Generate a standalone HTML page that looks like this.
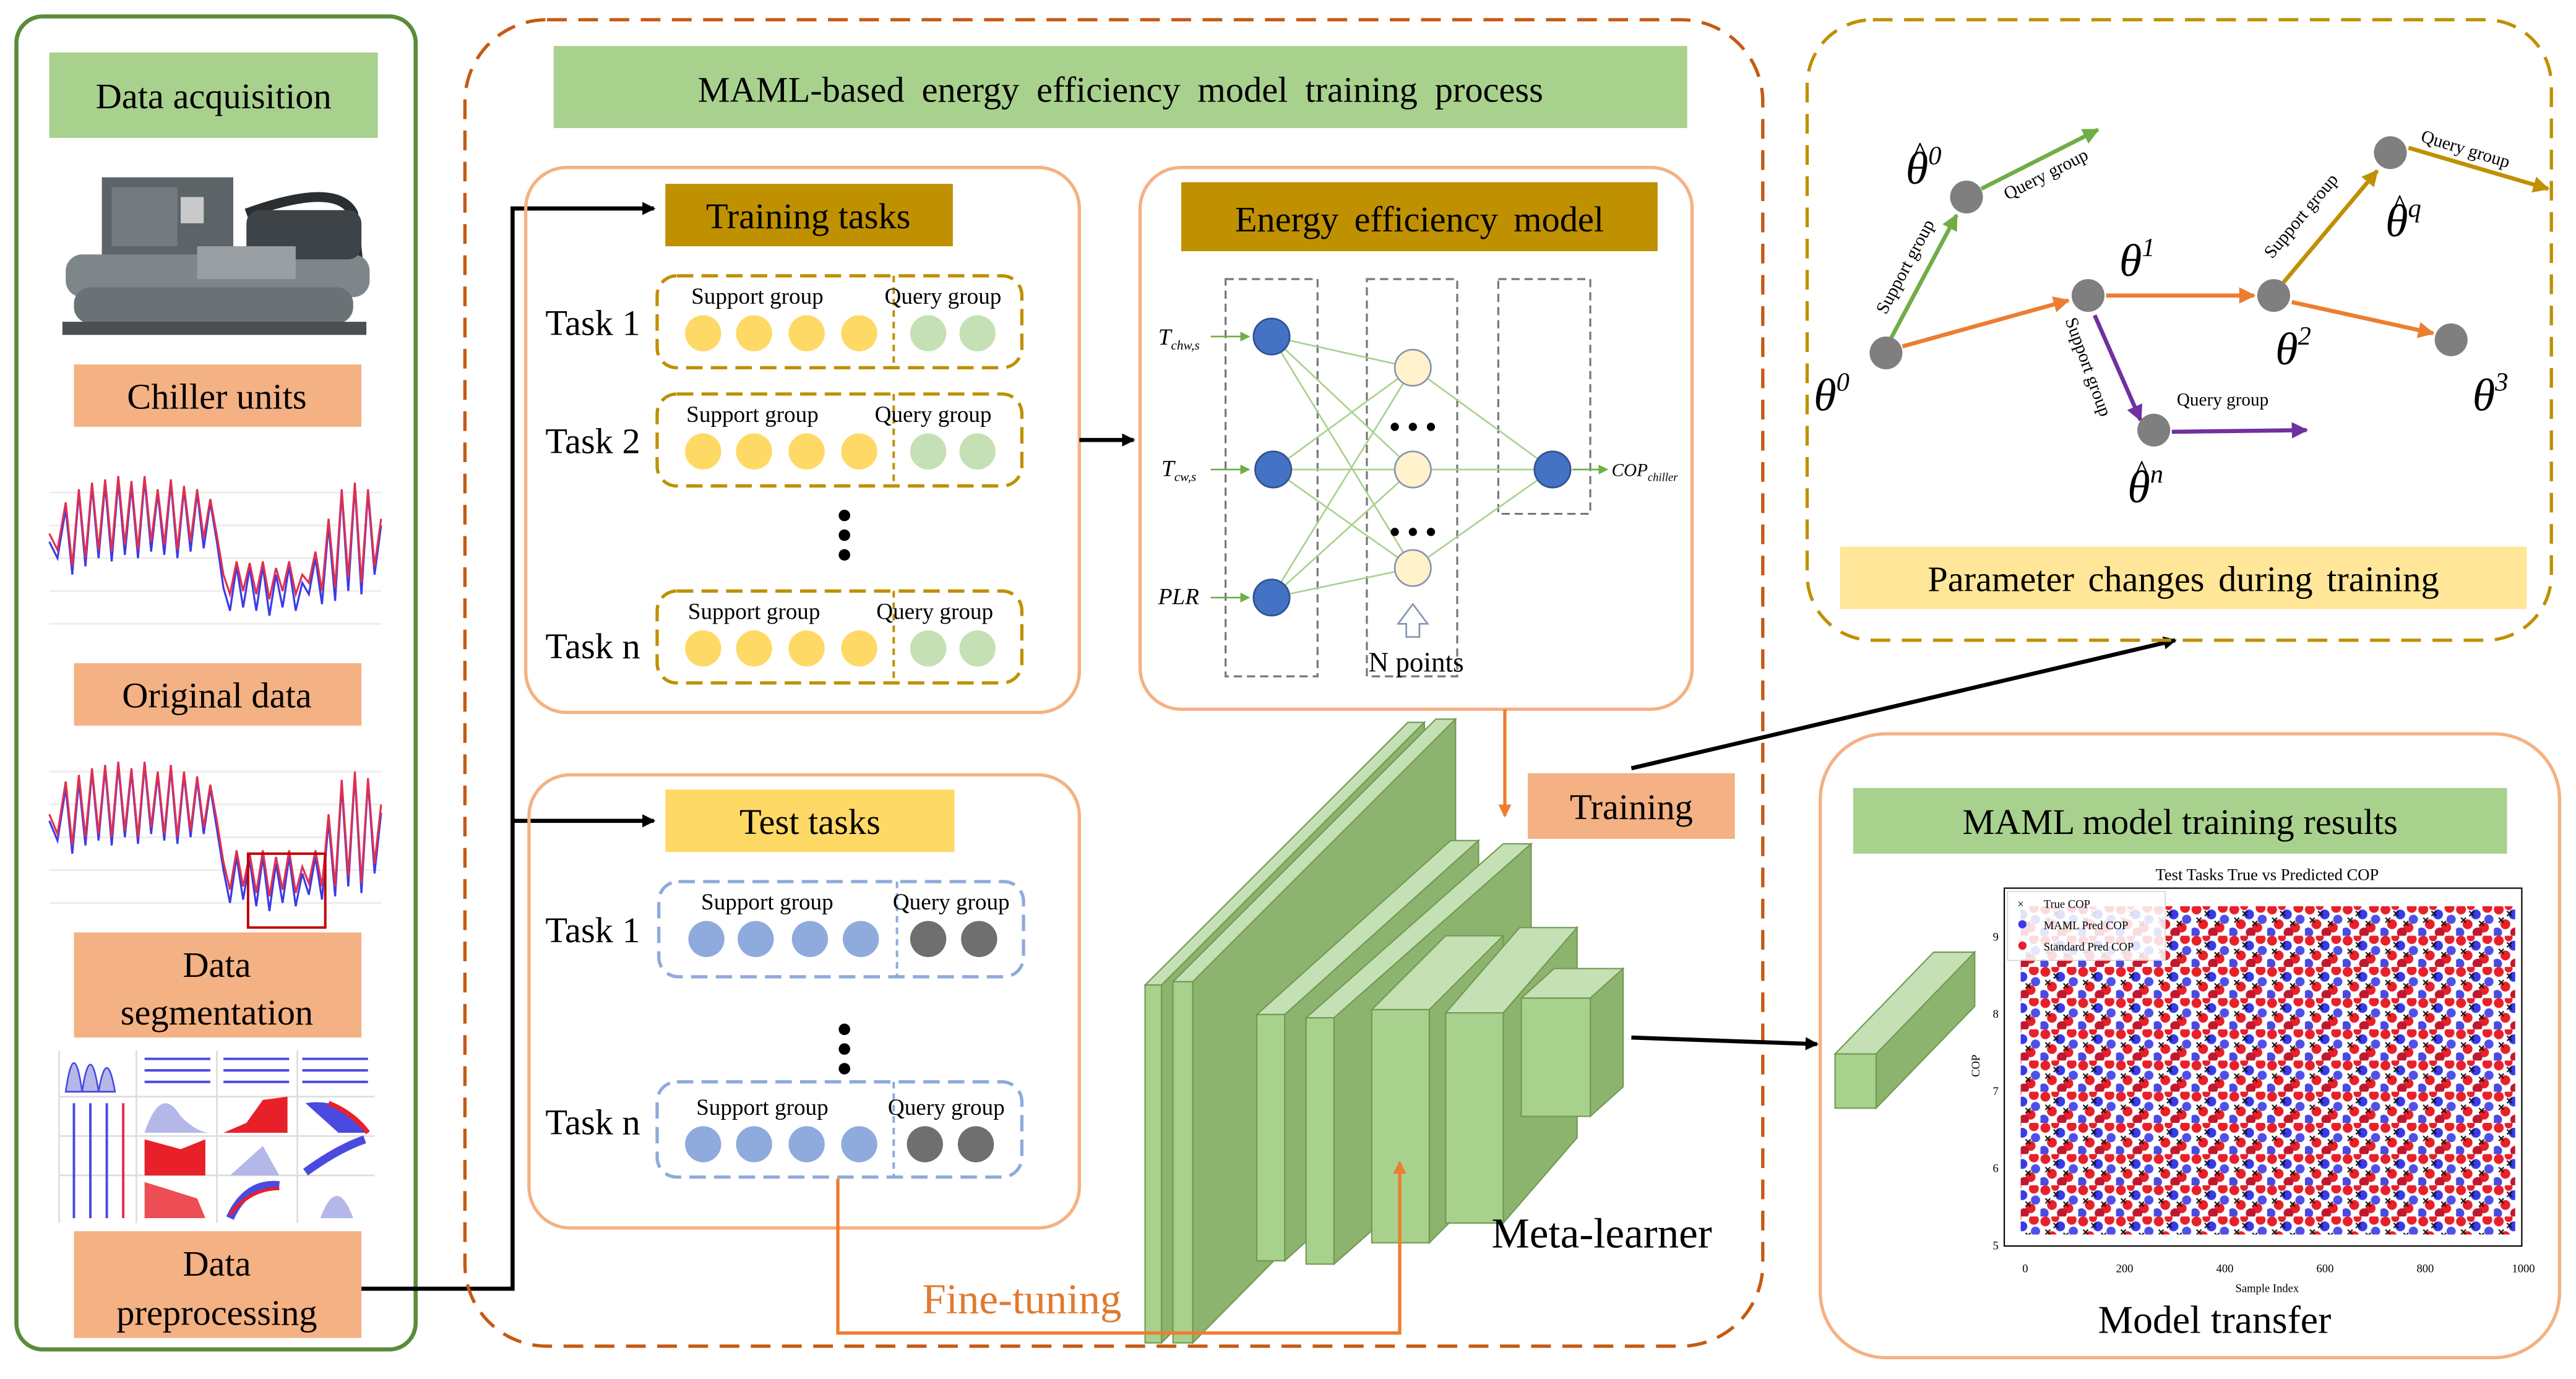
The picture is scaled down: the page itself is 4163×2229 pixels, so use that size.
<!DOCTYPE html>
<html><head><meta charset="utf-8"><style>
html,body{margin:0;padding:0;background:#fff;}
svg{display:block;}
text{font-family:"Liberation Serif",serif;}
</style></head><body>
<svg width="4163" height="2229" viewBox="0 0 1568 840" preserveAspectRatio="none" xmlns="http://www.w3.org/2000/svg">
<defs>
<marker id="ab" markerWidth="8" markerHeight="8" refX="7" refY="4" orient="auto" markerUnits="userSpaceOnUse"><path d="M0,0 L8,4 L0,8 z" fill="#000"/></marker>
<marker id="ao" markerWidth="8" markerHeight="8" refX="7" refY="4" orient="auto" markerUnits="userSpaceOnUse"><path d="M0,0 L8,4 L0,8 z" fill="#ed7d31"/></marker>
<marker id="ag" markerWidth="10" markerHeight="10" refX="9" refY="5" orient="auto" markerUnits="userSpaceOnUse"><path d="M0,0 L10,5 L0,10 z" fill="#70ad47"/></marker>
<marker id="aor" markerWidth="10" markerHeight="10" refX="9" refY="5" orient="auto" markerUnits="userSpaceOnUse"><path d="M0,0 L10,5 L0,10 z" fill="#ed7d31"/></marker>
<marker id="ap" markerWidth="10" markerHeight="10" refX="9" refY="5" orient="auto" markerUnits="userSpaceOnUse"><path d="M0,0 L10,5 L0,10 z" fill="#7030a0"/></marker>
<marker id="ay" markerWidth="10" markerHeight="10" refX="9" refY="5" orient="auto" markerUnits="userSpaceOnUse"><path d="M0,0 L10,5 L0,10 z" fill="#bf9000"/></marker>
<marker id="an" markerWidth="6" markerHeight="6" refX="5" refY="3" orient="auto" markerUnits="userSpaceOnUse"><path d="M0,0 L6,3 L0,6 z" fill="#70ad47"/></marker>
<pattern id="sc" width="23" height="19" patternUnits="userSpaceOnUse">
<circle cx="3" cy="3" r="3" fill="#e8202a"/><circle cx="12" cy="6" r="3" fill="#3a3ae8"/><circle cx="19" cy="2" r="3" fill="#e8202a"/>
<circle cx="7" cy="12" r="3" fill="#e8202a"/><circle cx="17" cy="14" r="3" fill="#e8202a"/><circle cx="2" cy="17" r="3" fill="#4a4ae0"/>
<circle cx="13" cy="17" r="3" fill="#c01830"/><circle cx="20" cy="9" r="2.8" fill="#5050e8"/><circle cx="9" cy="1" r="2.4" fill="#e8202a"/>
<path d="M8,4 l3,3 M11,4 l-3,3 M14,10 l3,3 M17,10 l-3,3 M3,8 l3,3 M6,8 l-3,3" stroke="#111" stroke-width="0.8"/>
</pattern>
</defs>

<!-- LEFT PANEL -->
<rect x="10" y="10" width="243" height="812" rx="16" fill="none" stroke="#5b8c3a" stroke-width="2.5"/>
<rect x="30" y="32" width="200" height="52" fill="#a9d18e"/>
<text x="130" y="66" font-size="22" text-anchor="middle">Data acquisition</text>
<g>
<rect x="62" y="108" width="80" height="50" fill="#5d6468"/>
<rect x="68" y="114" width="40" height="36" fill="#747b80"/>
<rect x="110" y="120" width="14" height="16" fill="#c9c9c9"/>
<path d="M150,130 Q205,110 215,130 L218,160" stroke="#2a2e30" stroke-width="6" fill="none"/>
<rect x="40" y="155" width="185" height="26" rx="10" fill="#7e868a"/>
<rect x="45" y="175" width="170" height="22" rx="10" fill="#6b7276"/>
<rect x="150" y="128" width="70" height="30" rx="8" fill="#3d4346"/>
<rect x="38" y="196" width="185" height="8" fill="#4a4f52"/>
<rect x="120" y="150" width="60" height="20" fill="#999fa3"/>
</g>
<rect x="45" y="222" width="175" height="38" fill="#f4b183"/>
<text x="132" y="249" font-size="22" text-anchor="middle">Chiller units</text>
<g fill="none" stroke-width="1.2">
<path d="M30,300 H232 M30,320 H232 M30,340 H232 M30,360 H232 M30,380 H232" stroke="#eee"/>
<polyline stroke="#3a3ae8" points="30,330 35,340 40,310 44,350 48,300 52,345 56,296 60,340 64,295 68,342 72,293 76,338 80,296 84,340 88,292 92,336 96,300 100,338 104,294 108,340 112,298 116,336 120,300 124,334 128,306 132,330 136,358 140,372 144,345 148,370 152,346 156,372 160,345 164,375 168,350 172,370 176,345 180,372 184,355 188,362 192,340 196,368 200,320 204,366 208,300 212,360 216,296 220,362 224,300 228,350 232,320"/>
<polyline stroke="#e03050" points="30,325 35,335 40,306 44,345 48,298 52,340 56,294 60,335 64,292 68,336 72,290 76,332 80,293 84,335 88,290 92,330 96,298 100,332 104,292 108,335 112,296 116,330 120,298 124,328 128,304 132,326 136,350 140,362 144,342 148,360 152,343 156,362 160,342 164,365 168,346 172,360 176,342 180,362 184,350 188,355 192,336 196,360 200,316 204,358 208,298 212,352 216,294 220,355 224,298 228,345 232,316"/>
</g>
<rect x="45" y="404" width="175" height="38" fill="#f4b183"/>
<text x="132" y="431" font-size="22" text-anchor="middle">Original data</text>
<g fill="none" stroke-width="1.2">
<path d="M30,470 H232 M30,490 H232 M30,510 H232 M30,530 H232 M30,550 H232" stroke="#eee"/>
<polyline stroke="#3a3ae8" points="30,500 35,512 40,480 44,520 48,476 52,515 56,470 60,512 64,468 68,515 72,466 76,510 80,470 84,514 88,466 92,508 96,472 100,512 104,468 108,514 112,472 116,510 120,475 124,508 128,480 132,505 136,530 140,550 144,522 148,548 152,524 156,552 160,522 164,555 168,526 172,550 176,522 180,552 184,532 188,545 192,522 196,548 200,500 204,546 208,478 212,540 216,472 220,544 224,476 228,532 232,495"/>
<polyline stroke="#e03050" points="30,496 35,508 40,476 44,515 48,472 52,510 56,468 60,508 64,466 68,510 72,464 76,506 80,468 84,510 88,464 92,504 96,470 100,508 104,466 108,510 112,470 116,506 120,473 124,504 128,478 132,500 136,525 140,542 144,518 148,540 152,520 156,544 160,518 164,546 168,522 172,542 176,518 180,544 184,528 188,538 192,518 196,540 200,496 204,540 208,475 212,534 216,470 220,538 224,474 228,526 232,490"/>
</g>
<rect x="151" y="520" width="47" height="45" fill="none" stroke="#c00000" stroke-width="1.5"/>
<rect x="45" y="568" width="175" height="64" fill="#f4b183"/>
<text x="132" y="595" font-size="22" text-anchor="middle">Data</text>
<text x="132" y="624" font-size="22" text-anchor="middle">segmentation</text>
<g stroke-width="1">
<path d="M36,640 V745 M83,640 V745 M132,640 V745 M181,640 V745 M36,668 H228 M36,692 H228 M36,716 H228" stroke="#ddd"/>
<path d="M40,665 Q45,630 50,665 Q55,632 60,665 Q65,636 70,665Z" fill="#b4b8e8" stroke="#4a4ae0"/>
<path d="M88,645 H128 M88,652 H128 M88,659 H128 M136,645 H176 M136,652 H176 M136,659 H176 M184,645 H224 M184,652 H224 M184,659 H224" stroke="#4a4ae0" stroke-width="1.5"/>
<path d="M45,672 V742 M55,672 V742 M65,672 V742" stroke="#4a4ae0" stroke-width="1.5"/>
<path d="M75,672 V742" stroke="#e03050" stroke-width="1.5"/>
<path d="M88,690 Q98,660 110,680 Q120,690 128,690Z" fill="#b4b8e8"/>
<path d="M136,690 L150,684 L160,670 L175,668 L175,690Z" fill="#e8202a"/>
<path d="M186,672 Q210,668 222,690 L206,690Z" fill="#4a4ae0"/>
<path d="M200,672 Q215,678 224,690" stroke="#e8202a" fill="none" stroke-width="3"/>
<path d="M88,694 L110,700 L125,694 L125,716 L88,716Z" fill="#e8202a"/>
<path d="M140,716 L160,698 L170,716Z" fill="#b4b8e8"/>
<path d="M186,714 Q205,700 222,694" stroke="#4a4ae0" fill="none" stroke-width="5"/>
<path d="M88,720 L120,730 L125,742 L88,742Z" fill="#e8202a" opacity="0.8"/>
<path d="M140,742 Q150,720 170,722" stroke="#4a4ae0" fill="none" stroke-width="5"/>
<path d="M140,740 Q152,724 170,724" stroke="#e8202a" fill="none" stroke-width="2"/>
<path d="M195,742 Q205,715 215,742Z" fill="#b4b8e8"/>
</g>
<rect x="45" y="750" width="175" height="65" fill="#f4b183"/>
<text x="132" y="777" font-size="22" text-anchor="middle">Data</text>
<text x="132" y="807" font-size="22" text-anchor="middle">preprocessing</text>

<path d="M220,785 H312 V127 H398" fill="none" stroke="#000" stroke-width="2.5" marker-end="url(#ab)"/>
<path d="M312,500 H398" fill="none" stroke="#000" stroke-width="2.5" marker-end="url(#ab)"/>

<!-- MIDDLE PANEL -->
<rect x="283" y="12" width="790" height="808" rx="50" fill="none" stroke="#c55a11" stroke-width="2" stroke-dasharray="12,7"/>
<rect x="337" y="28" width="690" height="50" fill="#a9d18e"/>
<text x="682" y="62" font-size="22" text-anchor="middle" word-spacing="5">MAML-based energy efficiency model training process</text>

<rect x="320" y="102" width="337" height="332" rx="25" fill="none" stroke="#f4b183" stroke-width="2"/>
<rect x="405" y="112" width="175" height="38" fill="#bf9000"/>
<text x="492" y="139" font-size="22" text-anchor="middle">Training tasks</text>
<g font-size="14">
<g>
<text x="332" y="204" font-size="22">Task 1</text>
<rect x="400" y="168" width="222" height="56" rx="12" fill="none" stroke="#bf9000" stroke-width="2" stroke-dasharray="10,5"/>
<line x1="544" y1="168" x2="544" y2="224" stroke="#bf9000" stroke-width="1.5" stroke-dasharray="4,3"/>
<text x="461" y="185" text-anchor="middle">Support group</text><text x="574" y="185" text-anchor="middle">Query group</text>
<circle cx="428" cy="203" r="11" fill="#ffd966"/><circle cx="459" cy="203" r="11" fill="#ffd966"/><circle cx="491" cy="203" r="11" fill="#ffd966"/><circle cx="523" cy="203" r="11" fill="#ffd966"/>
<circle cx="565" cy="203" r="11" fill="#c5e0b4"/><circle cx="595" cy="203" r="11" fill="#c5e0b4"/>
</g>
<g transform="translate(0,72)">
<text x="332" y="204" font-size="22">Task 2</text>
<rect x="400" y="168" width="222" height="56" rx="12" fill="none" stroke="#bf9000" stroke-width="2" stroke-dasharray="10,5"/>
<line x1="544" y1="168" x2="544" y2="224" stroke="#bf9000" stroke-width="1.5" stroke-dasharray="4,3"/>
<text x="458" y="185" text-anchor="middle">Support group</text><text x="568" y="185" text-anchor="middle">Query group</text>
<circle cx="428" cy="203" r="11" fill="#ffd966"/><circle cx="459" cy="203" r="11" fill="#ffd966"/><circle cx="491" cy="203" r="11" fill="#ffd966"/><circle cx="523" cy="203" r="11" fill="#ffd966"/>
<circle cx="565" cy="203" r="11" fill="#c5e0b4"/><circle cx="595" cy="203" r="11" fill="#c5e0b4"/>
</g>
<g transform="translate(0,192)">
<text x="332" y="209" font-size="22">Task n</text>
<rect x="400" y="168" width="222" height="56" rx="12" fill="none" stroke="#bf9000" stroke-width="2" stroke-dasharray="10,5"/>
<line x1="544" y1="168" x2="544" y2="224" stroke="#bf9000" stroke-width="1.5" stroke-dasharray="4,3"/>
<text x="459" y="185" text-anchor="middle">Support group</text><text x="569" y="185" text-anchor="middle">Query group</text>
<circle cx="428" cy="203" r="11" fill="#ffd966"/><circle cx="459" cy="203" r="11" fill="#ffd966"/><circle cx="491" cy="203" r="11" fill="#ffd966"/><circle cx="523" cy="203" r="11" fill="#ffd966"/>
<circle cx="565" cy="203" r="11" fill="#c5e0b4"/><circle cx="595" cy="203" r="11" fill="#c5e0b4"/>
</g>
</g>
<circle cx="514" cy="314" r="3.5"/><circle cx="514" cy="326" r="3.5"/><circle cx="514" cy="338" r="3.5"/>

<rect x="322" y="472" width="335" height="276" rx="25" fill="none" stroke="#f4b183" stroke-width="2"/>
<rect x="405" y="481" width="176" height="38" fill="#ffd966"/>
<text x="493" y="508" font-size="22" text-anchor="middle">Test tasks</text>
<g font-size="14">
<g>
<text x="332" y="574" font-size="22">Task 1</text>
<rect x="401" y="537" width="222" height="58" rx="12" fill="none" stroke="#8faadc" stroke-width="2" stroke-dasharray="10,5"/>
<line x1="546" y1="537" x2="546" y2="595" stroke="#8faadc" stroke-width="1.5" stroke-dasharray="4,3"/>
<text x="467" y="554" text-anchor="middle">Support group</text><text x="579" y="554" text-anchor="middle">Query group</text>
<circle cx="430" cy="572" r="11" fill="#8faadc"/><circle cx="460" cy="572" r="11" fill="#8faadc"/><circle cx="493" cy="572" r="11" fill="#8faadc"/><circle cx="524" cy="572" r="11" fill="#8faadc"/>
<circle cx="565" cy="572" r="11" fill="#6f6f6f"/><circle cx="596" cy="572" r="11" fill="#6f6f6f"/>
</g>
<g>
<text x="332" y="691" font-size="22">Task n</text>
<rect x="400" y="659" width="222" height="58" rx="12" fill="none" stroke="#8faadc" stroke-width="2" stroke-dasharray="10,5"/>
<line x1="544" y1="659" x2="544" y2="717" stroke="#8faadc" stroke-width="1.5" stroke-dasharray="4,3"/>
<text x="464" y="679" text-anchor="middle">Support group</text><text x="576" y="679" text-anchor="middle">Query group</text>
<circle cx="428" cy="697" r="11" fill="#8faadc"/><circle cx="459" cy="697" r="11" fill="#8faadc"/><circle cx="491" cy="697" r="11" fill="#8faadc"/><circle cx="523" cy="697" r="11" fill="#8faadc"/>
<circle cx="563" cy="697" r="11" fill="#6f6f6f"/><circle cx="594" cy="697" r="11" fill="#6f6f6f"/>
</g>
</g>
<circle cx="514" cy="627" r="3.5"/><circle cx="514" cy="639" r="3.5"/><circle cx="514" cy="651" r="3.5"/>

<path d="M657,268 H690" stroke="#000" stroke-width="2.5" marker-end="url(#ab)"/>

<rect x="694" y="102" width="336" height="330" rx="25" fill="none" stroke="#f4b183" stroke-width="2"/>
<rect x="719" y="111" width="290" height="42" fill="#bf9000"/>
<text x="864" y="141" font-size="22" text-anchor="middle" word-spacing="4">Energy efficiency model</text>
<g fill="none" stroke="#777" stroke-width="1.2" stroke-dasharray="5,3">
<rect x="746" y="170" width="56" height="242"/><rect x="832" y="170" width="55" height="242"/><rect x="912" y="170" width="56" height="143"/>
</g>
<g stroke="#a9d18e" stroke-width="1">
<path d="M774,205 L860,224 M774,205 L860,286 M774,205 L860,346 M775,286 L860,224 M775,286 L860,286 M775,286 L860,346 M774,364 L860,224 M774,364 L860,286 M774,364 L860,346 M860,224 L945,286 M860,286 L945,286 M860,346 L945,286"/>
</g>
<g stroke="#70ad47" stroke-width="1">
<path d="M737,205 H760" marker-end="url(#an)"/><path d="M737,286 H760" marker-end="url(#an)"/><path d="M737,364 H760" marker-end="url(#an)"/><path d="M957,286 H978" marker-end="url(#an)"/>
</g>
<g fill="#4472c4" stroke="#2f528f" stroke-width="1"><circle cx="774" cy="205" r="11"/><circle cx="775" cy="286" r="11"/><circle cx="774" cy="364" r="11"/><circle cx="945" cy="286" r="11"/></g>
<g fill="#fff2cc" stroke="#8496b0" stroke-width="1"><circle cx="860" cy="224" r="11"/><circle cx="860" cy="286" r="11"/><circle cx="860" cy="346" r="11"/></g>
<g><circle cx="849" cy="260" r="2.5"/><circle cx="860" cy="260" r="2.5"/><circle cx="871" cy="260" r="2.5"/><circle cx="849" cy="324" r="2.5"/><circle cx="860" cy="324" r="2.5"/><circle cx="871" cy="324" r="2.5"/></g>
<g font-style="italic" font-size="14">
<text x="705" y="210">T<tspan font-size="8" dy="3">chw,s</tspan></text>
<text x="707" y="290">T<tspan font-size="8" dy="3">cw,s</tspan></text>
<text x="705" y="368">PLR</text>
<text x="981" y="290" font-size="11">COP<tspan font-size="7" dy="3">chiller</tspan></text>
</g>
<path d="M856,388 V380 H851 L860,368 L869,380 H864 V388Z" fill="#fff" stroke="#8496b0" stroke-width="1"/>
<text x="862" y="409" font-size="17" text-anchor="middle">N points</text>

<path d="M916,432 V497" stroke="#ed7d31" stroke-width="2" marker-end="url(#ao)"/>
<rect x="930" y="471" width="126" height="40" fill="#f4b183"/>
<text x="993" y="499" font-size="22" text-anchor="middle">Training</text>
<path d="M993,468 L1324,390" stroke="#000" stroke-width="2.5" marker-end="url(#ab)"/>

<g stroke="#6f9a52" stroke-width="0.8">
<g><path d="M697,600 L857,440 L867,440 L707,600Z" fill="#c5e0b4"/><path d="M707,600 L867,440 L867,658 L707,818Z" fill="#8db46e"/><rect x="697" y="600" width="10" height="218" fill="#a9d18e"/></g>
<g><path d="M714,598 L874,438 L886,438 L726,598Z" fill="#c5e0b4"/><path d="M726,598 L886,438 L886,656 L726,818Z" fill="#8db46e"/><rect x="714" y="598" width="12" height="220" fill="#a9d18e"/></g>
<g><path d="M765,618 L883,512 L900,512 L782,618Z" fill="#c5e0b4"/><path d="M782,618 L900,512 L900,662 L782,768Z" fill="#8db46e"/><rect x="765" y="618" width="17" height="150" fill="#a9d18e"/></g>
<g><path d="M795,620 L915,514 L932,514 L812,620Z" fill="#c5e0b4"/><path d="M812,620 L932,514 L932,664 L812,770Z" fill="#8db46e"/><rect x="795" y="620" width="17" height="150" fill="#a9d18e"/></g>
<g><path d="M835,615 L880,570 L915,570 L870,615Z" fill="#c5e0b4"/><path d="M870,615 L915,570 L915,712 L870,757Z" fill="#8db46e"/><rect x="835" y="615" width="35" height="142" fill="#a9d18e"/></g>
<g><path d="M880,617 L925,565 L960,565 L915,617Z" fill="#c5e0b4"/><path d="M915,617 L960,565 L960,693 L915,745Z" fill="#8db46e"/><rect x="880" y="617" width="35" height="128" fill="#a9d18e"/></g>
<g><path d="M926,608 L946,590 L988,590 L968,608Z" fill="#c5e0b4"/><path d="M968,608 L988,590 L988,662 L968,680Z" fill="#8db46e"/><rect x="926" y="608" width="42" height="72" fill="#a9d18e"/></g>
</g>
<text x="975" y="760" font-size="26" text-anchor="middle">Meta-learner</text>
<path d="M510,718 V812 H852 V708" fill="none" stroke="#ed7d31" stroke-width="2" marker-end="url(#ao)"/>
<text x="622" y="800" font-size="26" text-anchor="middle" fill="#e07a30">Fine-tuning</text>
<path d="M993,632 L1106,636" stroke="#000" stroke-width="2.5" marker-end="url(#ab)"/>

<!-- TOP RIGHT PANEL -->
<rect x="1100" y="12" width="453" height="378" rx="40" fill="none" stroke="#bf9000" stroke-width="2" stroke-dasharray="12,7"/>
<g stroke-width="2.5" fill="none">
<path d="M1150,208 L1191,131" stroke="#70ad47" marker-end="url(#ag)"/>
<path d="M1206,115 L1277,79" stroke="#70ad47" marker-end="url(#ag)"/>
<path d="M1158,211 L1259,183" stroke="#ed7d31" marker-end="url(#aor)"/>
<path d="M1282,180 L1372,180" stroke="#ed7d31" marker-end="url(#aor)"/>
<path d="M1395,184 L1481,203" stroke="#ed7d31" marker-end="url(#aor)"/>
<path d="M1275,192 L1303,256" stroke="#7030a0" marker-end="url(#ap)"/>
<path d="M1322,263 L1404,262" stroke="#7030a0" marker-end="url(#ap)"/>
<path d="M1390,172 L1447,104" stroke="#bf9000" marker-end="url(#ay)"/>
<path d="M1466,90 L1551,115" stroke="#bf9000" marker-end="url(#ay)"/>
</g>
<g fill="#7f7f7f"><circle cx="1148" cy="215" r="10"/><circle cx="1197" cy="120" r="10"/><circle cx="1271" cy="180" r="10"/><circle cx="1384" cy="180" r="10"/><circle cx="1492" cy="207" r="10"/><circle cx="1311" cy="262" r="10"/><circle cx="1455" cy="93" r="10"/></g>
<g font-size="11">
<text transform="translate(1148,192) rotate(-62)">Support group</text>
<text transform="translate(1222,122) rotate(-27)">Query group</text>
<text transform="translate(1257,195) rotate(70)">Support group</text>
<text x="1325" y="247">Query group</text>
<text transform="translate(1383,158) rotate(-50)">Support group</text>
<text transform="translate(1473,86) rotate(17)">Query group</text>
</g>
<g font-style="italic" font-size="28">
<text x="1104" y="250">θ<tspan font-size="16" dy="-12">0</tspan></text>
<text x="1160" y="112">θ<tspan font-size="16" dy="-12">0</tspan></text><text x="1164" y="100" font-size="20" font-style="normal">^</text>
<text x="1290" y="168">θ<tspan font-size="16" dy="-12">1</tspan></text>
<text x="1385" y="222">θ<tspan font-size="16" dy="-12">2</tspan></text>
<text x="1505" y="250">θ<tspan font-size="16" dy="-12">3</tspan></text>
<text x="1295" y="306">θ<tspan font-size="16" dy="-12">n</tspan></text><text x="1299" y="294" font-size="20" font-style="normal">^</text>
<text x="1452" y="144">θ<tspan font-size="16" dy="-12">q</tspan></text><text x="1456" y="132" font-size="20" font-style="normal">^</text>
</g>
<rect x="1120" y="333" width="418" height="38" fill="#ffe699"/>
<text x="1329" y="360" font-size="22" text-anchor="middle" word-spacing="3">Parameter changes during training</text>

<!-- BOTTOM RIGHT PANEL -->
<rect x="1108" y="447" width="450" height="380" rx="40" fill="none" stroke="#f4b183" stroke-width="2"/>
<rect x="1128" y="480" width="398" height="40" fill="#a9d18e"/>
<text x="1327" y="508" font-size="22" text-anchor="middle">MAML model training results</text>
<g stroke="#6f9a52" stroke-width="0.8">
<path d="M1117,642 L1177,580 L1202,580 L1142,642Z" fill="#c5e0b4"/>
<path d="M1142,642 L1202,580 L1202,613 L1142,675Z" fill="#8db46e"/>
<rect x="1117" y="642" width="25" height="33" fill="#a9d18e"/>
</g>
<text x="1380" y="536" font-size="10" text-anchor="middle" font-family="Liberation Sans, sans-serif">Test Tasks True vs Predicted COP</text>
<rect x="1220" y="541" width="315" height="218" fill="#fff" stroke="#000" stroke-width="0.8"/>
<rect x="1230" y="552" width="301" height="200" fill="url(#sc)"/>
<rect x="1222" y="543" width="96" height="42" fill="#fff" fill-opacity="0.85" stroke="#ccc" stroke-width="0.5"/>
<g font-size="7" font-family="Liberation Sans, sans-serif">
<text x="1228" y="553">×</text><text x="1244" y="553">True COP</text>
<circle cx="1231" cy="563" r="2.5" fill="#3a3ae8"/><text x="1244" y="566">MAML Pred COP</text>
<circle cx="1231" cy="576" r="2.5" fill="#e8202a"/><text x="1244" y="579">Standard Pred COP</text>
<text x="1213" y="761">5</text><text x="1213" y="714">6</text><text x="1213" y="667">7</text><text x="1213" y="620">8</text><text x="1213" y="573">9</text>
<text x="1231" y="775">0</text><text x="1288" y="775">200</text><text x="1349" y="775">400</text><text x="1410" y="775">600</text><text x="1471" y="775">800</text><text x="1529" y="775">1000</text>
<text x="1380" y="787" text-anchor="middle">Sample Index</text>
<text transform="translate(1205,656) rotate(-90)">COP</text>
</g>
<text x="1348" y="812" font-size="24" text-anchor="middle">Model transfer</text>
</svg>
</body></html>
